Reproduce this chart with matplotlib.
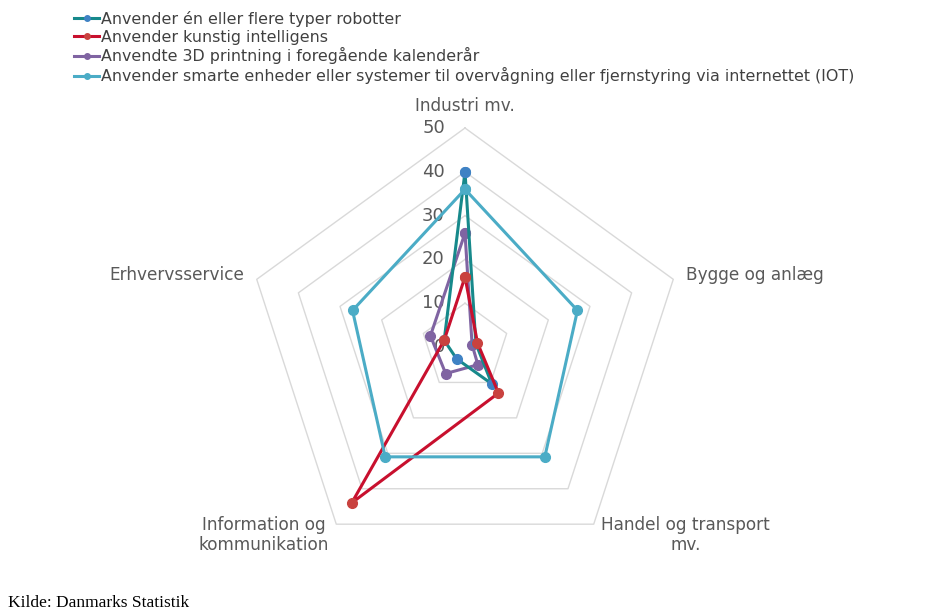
import numpy as np
import matplotlib.pyplot as plt

# kategorier (med uret fra toppen)
kategorier = ["Industri mv.", "Bygge og anlæg", "Handel og transport\nmv.",
              "Information og\nkommunikation", "Erhvervsservice"]

robotter = [40, 2.6, 10.4, 3.3, 5]
kunstig_intelligens = [16, 3, 13, 44, 5]
printning_3d = [26, 1.7, 5, 7.5, 8.3]
iot = [36, 27, 31, 31, 27]

serie_navne = ["Anvender én eller flere typer robotter",
               "Anvender kunstig intelligens",
               "Anvendte 3D printning i foregående kalenderår",
               "Anvender smarte enheder eller systemer til overvågning eller fjernstyring via internettet (IOT)"]

ringe = [0, 10, 20, 30, 40, 50]

W, H = 934, 612
cx, cy = 465, 347      # centrum i pixels
skala = 4.38           # pixels pr. enhed

fig = plt.figure(figsize=(W / 100, H / 100), dpi=100)
fig.patch.set_facecolor("white")
ax = fig.add_axes([0, 0, 1, 1])
ax.set_xlim(-cx / skala, (W - cx) / skala)
ax.set_ylim(-(H - cy) / skala, cy / skala)
ax.axis("off")

vinkler = np.deg2rad(90 - 72 * np.arange(len(kategorier)))


def polygon(vaerdier):
    v = np.asarray(vaerdier, dtype=float)
    x = v * np.cos(vinkler)
    y = v * np.sin(vinkler)
    return np.append(x, x[0]), np.append(y, y[0])


# gitter
for r in ringe[1:]:
    gx, gy = polygon([r] * len(kategorier))
    ax.plot(gx, gy, color="#d9d9d9", lw=1.0, zorder=1)

for r in ringe:
    ax.text(-4.6, r, str(r), ha="right", va="center", fontsize=13,
            color="#595959", family="DejaVu Sans", zorder=2)

# akse-etiketter
for navn, v in zip(kategorier, vinkler):
    x, y = 53 * np.cos(v), 53 * np.sin(v)
    c = np.cos(v)
    if abs(c) < 0.01:
        ha, va = "center", "bottom"
    else:
        ha, va = ("left" if c > 0 else "right"), "center"
    ax.text(x, y, navn, ha=ha, va=va, multialignment="center", fontsize=12.2,
            color="#595959", family="DejaVu Sans", linespacing=1.1)

serier = [
    (robotter, "#17898b", "#3f82c4", 4),
    (kunstig_intelligens, "#c8102e", "#c9423f", 5),
    (printning_3d, "#8064a2", "#8064a2", 3),
    (iot, "#4bacc6", "#4bacc6", 6),
]

handles = []
for (vaerdier, farve, mfarve, z), navn in zip(serier, serie_navne):
    px, py = polygon(vaerdier)
    h, = ax.plot(px, py, color=farve, lw=2.2, marker="o", ms=7,
                 markerfacecolor=mfarve, markeredgecolor=mfarve, zorder=z,
                 label=navn)
    handles.append(h)

leg = fig.legend(handles=handles, loc="upper left", bbox_to_anchor=(74 / W, 1 - 11 / H),
                 frameon=False, handlelength=1.6, handletextpad=0.1,
                 labelspacing=0.17, borderaxespad=0, borderpad=0,
                 prop={"family": "DejaVu Sans", "size": 11.4})
for t in leg.get_texts():
    t.set_color("#404040")
for lh in leg.legend_handles:
    lh.set_markersize(4)

fig.text(8 / W, 1 - 611 / H, "Kilde: Danmarks Statistik", ha="left", va="bottom",
         fontsize=12.5, family="Liberation Serif", color="black")

fig.savefig("out.png", dpi=100, facecolor=fig.get_facecolor())
